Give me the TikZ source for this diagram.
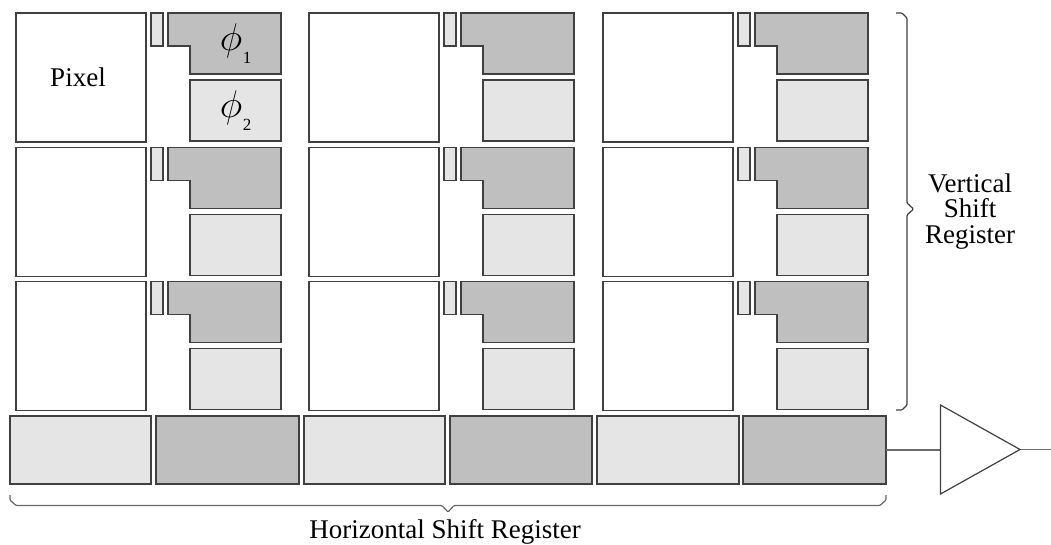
\documentclass[tikz,border=0pt]{standalone}
\usepackage{fontspec}
\usepackage{graphicx}
\setmainfont{Liberation Serif}
\definecolor{darkreg}{gray}{0.75}
\definecolor{lightreg}{gray}{0.90}
\definecolor{edgeg}{gray}{0.25}
\tikzset{
  x=1pt,y=-1pt,
  cellbase/.style={draw=edgeg,line width=1.2pt,anchor=north west,inner sep=0pt,outer sep=0pt},
  pixelbox/.style={cellbase,fill=white,minimum width=130pt,minimum height=129pt},
  gatebox/.style={cellbase,fill=lightreg,minimum width=12pt,minimum height=33pt},
  lightbox/.style={cellbase,fill=lightreg,minimum width=91pt,minimum height=61pt},
  hlight/.style={cellbase,fill=lightreg,minimum height=68pt},
  hdark/.style={cellbase,fill=darkreg,minimum height=68pt},
  darkshape/.style={draw=edgeg,line width=1.2pt,fill=darkreg,line join=miter},
  wire/.style={draw=gray!85!black,line width=1.2pt},
  bracevert/.style={draw=edgeg,line width=1.2pt,rounded corners=1pt},
  bracehoriz/.style={draw=gray!80!black,line width=1.2pt,rounded corners=1pt},
  label/.style={font=\fontsize{27}{25.5}\selectfont,inner sep=0pt},
  phisym/.style={inner sep=0pt},
  phisub/.style={font=\fontsize{17}{17}\selectfont,inner sep=0pt}
}
\begin{document}
\begin{tikzpicture}
\useasboundingbox (0,0) rectangle (1051,545);
% pixel array
\foreach \c/\dx in {1/0,2/293,3/587}{
  \foreach \r/\dy in {1/0,2/134.5,3/268.5}{
    \node[pixelbox] (pix\c\r) at (16+\dx,13+\dy) {};
    \node[gatebox] (gate\c\r) at (151+\dx,13+\dy) {};
    \draw[darkshape] (168+\dx,13+\dy) -- (281+\dx,13+\dy) -- (281+\dx,74+\dy) -- (190+\dx,74+\dy) -- (190+\dx,46+\dy) -- (168+\dx,46+\dy) -- cycle;
    \node[lightbox] (ltreg\c\r) at (190+\dx,80+\dy) {};
  }
}
\node[label] (pixtxt) at (78,77) {Pixel};
\node[phisym] (phione) at (231,40.5) {\scalebox{1.55}{\fontsize{24.88}{24.88}\selectfont$\phi$}};
\node[phisub] (subone) at (247,58) {1};
\node[phisym] (phitwo) at (231,107.5) {\scalebox{1.55}{\fontsize{24.88}{24.88}\selectfont$\phi$}};
\node[phisub] (subtwo) at (247,125) {2};
% horizontal register
\node[hlight,minimum width=141pt] (h1) at (10,416) {};
\node[hdark,minimum width=143pt] (h2) at (156,416) {};
\node[hlight,minimum width=141pt] (h3) at (304,416) {};
\node[hdark,minimum width=142pt] (h4) at (450,416) {};
\node[hlight,minimum width=142pt] (h5) at (597,416) {};
\node[hdark,minimum width=143pt] (h6) at (743,416) {};
% amplifier
\coordinate (ampa) at (940.5,405);
\coordinate (ampb) at (940.5,494);
\coordinate (ampout) at (1020,449.5);
\coordinate (ampin) at (940.5,450);
\coordinate (wireend) at (1051,449.5);
\draw[wire] (h6.east) -- (ampin);
\draw[wire] (ampout) -- (wireend);
\draw[draw=edgeg,line width=1.2pt,line join=miter] (ampa) -- (ampout) -- (ampb) -- cycle;
% braces
\draw[bracevert] (896,13) -- (902,13) -- (907,18) -- (907,203) -- (913.5,209) -- (907,215) -- (907,405) -- (902,410) -- (896,410);
\draw[bracehoriz] (10,495) -- (10,500) -- (16,505.5) -- (442,505.5) -- (448,512) -- (454,505.5) -- (880,505.5) -- (886,500) -- (886,495);
\node[label,align=center] (vtxt) at (970,211.5) {Vertical\\Shift\\Register};
\node[label] (htxt) at (445,532) {Horizontal Shift Register};
\end{tikzpicture}
\end{document}
